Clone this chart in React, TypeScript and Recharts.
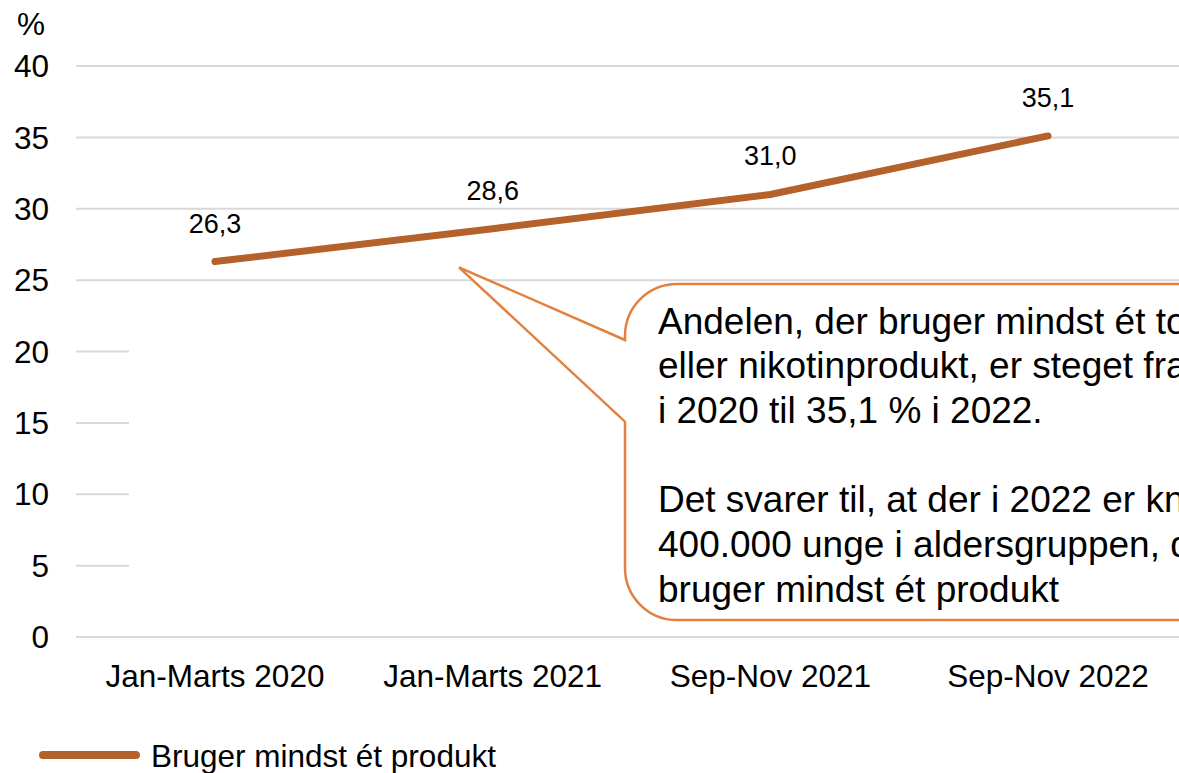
import React from "react";
import {
  LineChart,
  Line,
  XAxis,
  YAxis,
  CartesianGrid,
  LabelList,
  Legend,
  Customized,
} from "recharts";

const categories = ["Jan-Marts 2020", "Jan-Marts 2021", "Sep-Nov 2021", "Sep-Nov 2022"];
const values = [26.3, 28.6, 31.0, 35.1];
const yTicks = [0, 5, 10, 15, 20, 25, 30, 35, 40];
const seriesName = "Bruger mindst ét produkt";
const calloutLines = [
  "Andelen, der bruger mindst ét tobaks-",
  "eller nikotinprodukt, er steget fra 26,3 %",
  "i 2020 til 35,1 % i 2022.",
  "",
  "Det svarer til, at der i 2022 er knap",
  "400.000 unge i aldersgruppen, der",
  "bruger mindst ét produkt",
];

const data = categories.map((c, i) => ({ name: c, value: values[i] }));

const FONT = "'Liberation Sans', Arial, Helvetica, sans-serif";
const LINE_COLOR = "#b5612c";
const CALLOUT_COLOR = "#e2803f";
const GRID_COLOR = "#d9d9d9";

const fmt = (v: number) => v.toFixed(1).replace(".", ",");

const Overlay = () => {
  const L = 617;
  const T = 276;
  const B = 612;
  const R = 1400;
  const r = 52;
  const d = [
    `M ${L} 332`,
    `L 451 259.3`,
    `L ${L} 413.7`,
    `L ${L} ${B - r}`,
    `A ${r} ${r} 0 0 0 ${L + r} ${B}`,
    `L ${R} ${B}`,
    `L ${R} ${T}`,
    `L ${L + r} ${T}`,
    `A ${r} ${r} 0 0 0 ${L} ${T + r}`,
    `Z`,
  ].join(" ");
  return (
    <g>
      <rect x={121} y={284} width={500} height={330} fill="#ffffff" />
      <path d={d} fill="#ffffff" stroke={CALLOUT_COLOR} strokeWidth={2.5} strokeLinejoin="miter" />
      {calloutLines.map((t, i) => (
        <text
          key={i}
          x={650}
          y={325.6 + i * 44.7}
          fontSize={37}
          fontFamily={FONT}
          fill="#000000"
        >
          {t}
        </text>
      ))}
      <text x={23} y={27} fontSize={31.5} fontFamily={FONT} fill="#000000" textAnchor="middle">
        %
      </text>
    </g>
  );
};

const LegendContent = () => (
  <svg width={600} height={40} style={{ display: "block" }}>
    <line x1={35} x2={128} y1={20} y2={20} stroke={LINE_COLOR} strokeWidth={8} strokeLinecap="round" />
    <text x={143} y={31.5} fontSize={31.5} fontFamily={FONT} fill="#000000">
      {seriesName}
    </text>
  </svg>
);

export default function App() {
  return (
    <>
      <style>{`html,body{margin:0;padding:0;overflow:hidden;}`}</style>
      <div
        style={{
          width: 1179,
          height: 773,
          paddingLeft: 8,
          paddingTop: 8,
          boxSizing: "border-box",
          overflow: "hidden",
          position: "relative",
          fontFamily: FONT,
          background: "#ffffff",
        }}
      >
        <LineChart
          width={1200}
          height={765}
          data={data}
          margin={{ top: 58, right: 21, bottom: 36, left: 0 }}
        >
          <CartesianGrid horizontal vertical={false} stroke={GRID_COLOR} strokeWidth={2} />
          <Customized component={Overlay} />
          <XAxis
            dataKey="name"
            axisLine={false}
            tickLine={false}
            tickSize={0}
            tickMargin={28}
            height={60}
            padding={{ left: 139, right: 139 }}
            tick={{ fontSize: 31.5, fill: "#000000", fontFamily: FONT }}
            interval={0}
          />
          <YAxis
            domain={[0, 40]}
            ticks={yTicks}
            axisLine={false}
            tickLine={false}
            tickSize={0}
            tickMargin={27}
            width={68}
            tick={{ fontSize: 31.5, fill: "#000000", fontFamily: FONT }}
            interval={0}
          />
          <Legend
            verticalAlign="bottom"
            height={40}
            wrapperStyle={{ left: 0, top: 727, bottom: "auto", width: 600, height: 40 }}
            content={<LegendContent />}
          />
          <Line
            type="linear"
            dataKey="value"
            name={seriesName}
            stroke={LINE_COLOR}
            strokeWidth={7}
            strokeLinecap="round"
            dot={false}
            activeDot={false}
            isAnimationActive={false}
          >
            <LabelList
              dataKey="value"
              position="top"
              offset={29}
              formatter={(v: any) => fmt(Number(v))}
              style={{ fontSize: 27, fill: "#000000", fontFamily: FONT }}
            />
          </Line>
        </LineChart>
      </div>
    </>
  );
}
